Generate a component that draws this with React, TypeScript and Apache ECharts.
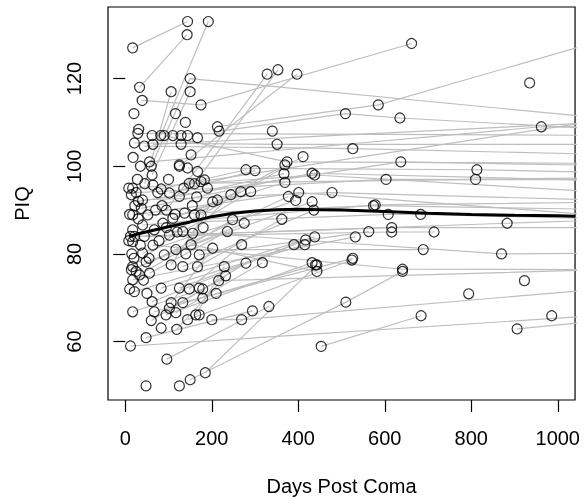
import React, { useEffect, useRef } from 'react';
import * as echarts from 'echarts';

const xTicks = [0, 200, 400, 600, 800, 1000];
const yTicks = [60, 80, 100, 120];

// Subjects with repeated visits: [days post coma, PIQ]
const upperSubjects = [
  [[17, 127], [144, 133]],
  [[33, 118], [143, 130]],
  [[82, 107], [192, 133]],
  [[60, 100], [150, 120], [1100, 111]],
  [[45, 96], [106, 117]],
  [[62, 98], [150, 117]],
  [[39, 115], [175, 114], [662, 128]],
  [[160, 96], [353, 122]],
  [[95, 90], [328, 121]],
  [[125, 100], [397, 121]],
  [[213, 109], [585, 114], [1100, 128.6]],
  [[217, 108], [509, 112], [635, 111], [1100, 108.5]],
  [[56, 101], [962, 109], [1300, 109]],
  [[64, 105], [1100, 110]],
  [[175, 96.5], [1100, 110.5]],
];

const middleSubjects = [
  [[29, 107.5], [1200, 107]],
  [[21, 105.3], [351, 105], [1200, 105]],
  [[44, 104.6], [526, 104], [1200, 102.5]],
  [[90, 107], [374, 101], [1200, 100.6]],
  [[30, 92], [637, 101], [1200, 100]],
  [[144, 99.6], [813, 99.2], [1200, 98.4]],
  [[148, 96.1], [810, 97], [1200, 97.5]],
  [[25, 94], [603, 97], [1200, 96.9]],
  [[37, 90.4], [432, 98.4], [1200, 96.5]],
  [[17, 95], [438, 98], [1200, 93.5]],
  [[40, 92.3], [478, 94], [1200, 92]],
  [[52, 88.9], [574, 91], [1200, 90]],
  [[17, 88.9], [401, 94], [1200, 88]],
  [[40, 86.6], [578, 91.2], [1200, 91.9]],
  [[87, 87], [608, 89], [683, 89], [1200, 87.8]],
  [[102, 84.3], [883, 87], [1200, 88]],
  [[21, 84], [616, 86], [1200, 86]],
  [[44, 84], [616, 85], [714, 85]],
  [[67, 85.5], [870, 80], [1200, 80.2]],
  [[117, 81], [689, 81]],
  [[64, 82], [641, 76.5], [1200, 76.4]],
  [[83, 94.8], [279, 99.2]],
  [[102, 93.9], [300, 99]],
  [[125, 93.1], [367, 98.3]],
  [[137, 89.3], [369, 96.3]],
  [[160, 88.9], [369, 100.3]],
  [[175, 88.9], [411, 102.2]],
  [[110, 88.1], [267, 94.2]],
  [[133, 85.1], [290, 94.2]],
  [[156, 84.7], [244, 93.5]],
];

const lowerSubjects = [
  [[90, 79.8], [377, 93.1]],
  [[40, 80.2], [394, 92.2]],
  [[48, 78.2], [432, 91.9]],
  [[17, 77.1], [213, 92.3]],
  [[106, 77.5], [202, 91.9]],
  [[133, 77.1], [436, 90]],
  [[167, 77.1], [362, 87.9]],
  [[14, 76.4], [275, 87]],
  [[33, 75.2], [248, 87.8]],
  [[56, 75.6], [236, 85.1]],
  [[171, 79.8], [563, 85.1]],
  [[17, 74.1], [532, 83.9]],
  [[21, 71.4], [438, 83.9]],
  [[62, 69.1], [417, 83.2]],
  [[83, 72.2], [415, 82.1]],
  [[125, 72.2], [390, 82.1]],
  [[148, 72], [269, 82.1]],
  [[106, 68.9], [202, 81.3]],
  [[133, 68.9], [526, 79]],
  [[117, 66.6], [317, 78]],
  [[94, 66.1], [432, 78]],
  [[67, 66.8], [440, 77.5]],
  [[60, 64.8], [279, 77.9]],
  [[144, 65], [524, 78.6]],
  [[163, 66.1], [229, 77.1]],
  [[119, 62.8], [232, 75]],
  [[102, 67.6], [216, 73.9], [1100, 76.4]],
  [[17, 66.8], [179, 72]],
  [[48, 60.9], [294, 67]],
  [[96, 56], [332, 68]],
  [[150, 51.3], [510, 69], [641, 76]],
  [[185, 52.9], [443, 77.5]],
  [[453, 58.9], [684, 65.9]],
  [[12, 59], [1100, 66]],
  [[906, 62.9], [1200, 65.7]],
  [[200, 65], [269, 65], [1100, 72]],
  [[152, 82.1], [443, 76]],
];

// Subjects seen only once
const singleVisits = [
  [20, 112], [116, 112], [139, 110], [31, 108.4], [62, 107], [935, 119], [340, 108],
  [110, 107], [129, 107], [167, 106.5], [144, 107], [167, 98.8], [129, 105],
  [152, 102.6], [125, 100.3], [64, 95.7], [14, 93.5], [17, 85.5], [17, 82.8],
  [183, 96.9], [171, 66.1], [210, 71], [179, 69.9], [171, 72.2], [48, 49.9],
  [125, 49.9], [83, 63.1], [794, 70.9], [923, 73.9], [986, 65.9], [8, 95], [10, 89],
  [12, 84], [15, 80], [8, 83], [20, 79], [25, 76], [10, 72], [30, 88], [35, 82],
  [22, 91], [28, 97], [35, 100], [18, 102], [42, 74], [50, 71], [55, 79], [70, 90],
  [75, 94], [78, 83], [85, 91], [95, 86], [100, 97], [115, 89], [120, 85], [135, 95],
  [140, 80], [155, 91], [165, 93], [180, 86], [190, 95],
];

const lowessDays = [10, 30, 60, 100, 150, 200, 250, 300, 350, 400, 450, 500, 600, 700, 800, 900, 1000, 1040];
const lowessPIQ = [84.0, 84.6, 85.3, 86.2, 87.3, 88.5, 89.3, 89.8, 90.1, 90.2, 90.1, 90.0, 89.7, 89.3, 89.0, 88.8, 88.7, 88.6];

const FONT = '"Liberation Sans", Arial, Helvetica, sans-serif';

export default function App() {
  const ref = useRef<HTMLDivElement>(null);
  useEffect(() => {
    document.body.style.margin = '0';
    const chart = echarts.init(ref.current!, null, { renderer: 'svg' });
    const subjects = [...upperSubjects, ...middleSubjects, ...lowerSubjects];
    const lineSeries = subjects.map((s) => ({
      type: 'line',
      data: s,
      symbol: 'none',
      silent: true,
      clip: true,
      z: 1,
      lineStyle: { color: '#bebebe', width: 1.2 },
    }));
    const allPoints = [...subjects.flat(), ...singleVisits];
    const fmt = (v: number) => String(v);
    chart.setOption({
      animation: false,
      grid: { left: 108, top: 7, width: 470, height: 393, show: true, borderColor: '#000', borderWidth: 1.2, backgroundColor: 'transparent' },
      xAxis: {
        type: 'value', min: -40, max: 1040,
        axisLine: { show: false }, splitLine: { show: false },
        axisTick: { show: true, customValues: xTicks, length: 12, lineStyle: { color: '#000', width: 1.2 } },
        axisLabel: { customValues: xTicks, formatter: fmt, margin: 28, fontSize: 20, color: '#000', fontFamily: FONT },
        name: 'Days Post Coma', nameLocation: 'middle', nameGap: 76,
        nameTextStyle: { fontSize: 20, color: '#000', fontFamily: FONT },
      },
      yAxis: {
        type: 'value', min: 46.68, max: 136.32,
        axisLine: { show: false }, splitLine: { show: false },
        axisTick: { show: true, customValues: yTicks, length: 12, lineStyle: { color: '#000', width: 1.2 } },
        axisLabel: { customValues: yTicks, formatter: fmt, rotate: 90, margin: 24, fontSize: 20, color: '#000', fontFamily: FONT },
        name: 'PIQ', nameLocation: 'middle', nameGap: 76,
        nameTextStyle: { fontSize: 20, color: '#000', fontFamily: FONT },
      },
      series: [
        ...lineSeries,
        {
          type: 'scatter', data: allPoints, symbol: 'circle', symbolSize: 10, clip: true, z: 2, silent: true,
          itemStyle: { color: 'rgba(0,0,0,0)', borderColor: '#000', borderWidth: 1.2 },
        },
        {
          type: 'line', data: lowessDays.map((d, i) => [d, lowessPIQ[i]]), symbol: 'none', clip: true, z: 3, silent: true,
          lineStyle: { color: '#000', width: 3 },
        },
      ],
    });
    return () => chart.dispose();
  }, []);
  return <div ref={ref} style={{ position: 'fixed', left: 0, top: 0, width: 583, height: 502 }} />;
}
